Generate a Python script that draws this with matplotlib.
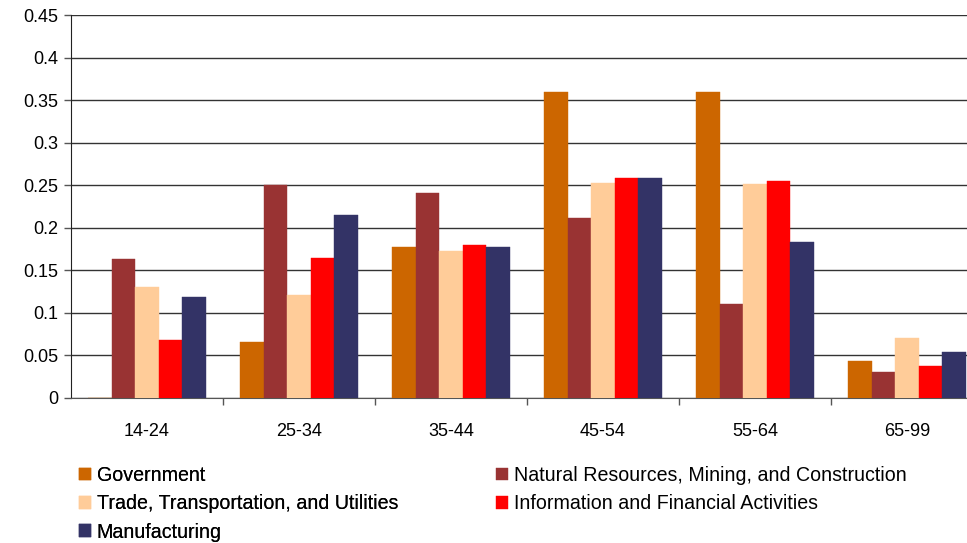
import matplotlib.pyplot as plt
import numpy as np

plt.rcParams["font.family"] = ["Liberation Sans", "DejaVu Sans"]

# age groups and share of workers per sector
age_groups = ["14-24", "25-34", "35-44", "45-54", "55-64", "65-99"]
government = [0.0, 0.066, 0.177, 0.359, 0.359, 0.044]
natural_resources = [0.163, 0.250, 0.241, 0.212, 0.111, 0.030]
trade = [0.131, 0.121, 0.173, 0.253, 0.252, 0.070]
info_finance = [0.068, 0.165, 0.180, 0.258, 0.255, 0.038]
manufacturing = [0.119, 0.215, 0.177, 0.258, 0.183, 0.054]

series = [
    ("Government", government, "#CC6600"),
    ("Natural Resources, Mining, and Construction", natural_resources, "#993333"),
    ("Trade, Transportation, and Utilities", trade, "#FFCC99"),
    ("Information and Financial Activities", info_finance, "#FF0000"),
    ("Manufacturing", manufacturing, "#333366"),
]

fig = plt.figure(figsize=(9.67, 5.43), dpi=100)
ax = fig.add_axes([71 / 967, 145 / 543, 912 / 967, 383 / 543])

x = np.arange(len(age_groups))
width = 0.155
handles = {}
for i, (name, vals, color) in enumerate(series):
    bars = ax.bar(x + (i - 2) * width, vals, width, color=color, label=name,
                  edgecolor=color, linewidth=0.3, zorder=3)
    handles[name] = bars

ax.set_xlim(-0.5, len(age_groups) - 0.5)
ax.set_ylim(0, 0.45)
ax.set_yticks(np.arange(0, 0.451, 0.05))
ax.set_yticklabels(["0", "0.05", "0.1", "0.15", "0.2", "0.25", "0.3", "0.35", "0.4", "0.45"])
ax.set_xticks(x)
ax.set_xticklabels(age_groups)
ax.set_xticks(np.arange(0.5, len(age_groups) - 0.5, 1), minor=True)
ax.tick_params(axis="x", which="major", length=0, pad=18, labelsize=13)
ax.tick_params(axis="x", which="minor", length=5, width=1, direction="out", color="#555555")
ax.tick_params(axis="y", length=5, width=1, labelsize=13, color="#555555", pad=4)
ax.yaxis.grid(True, color="#333333", linewidth=1)
ax.set_axisbelow(True)
for side in ["top", "right"]:
    ax.spines[side].set_visible(False)
ax.spines["left"].set_color("#222222")
ax.spines["bottom"].set_color("#555555")

legend_kw = dict(loc="upper left", frameon=False, fontsize=14.1,
                 handlelength=0.6, handleheight=0.6, handletextpad=0.3,
                 labelspacing=0.475, borderaxespad=0, borderpad=0)
col1 = [series[i][0] for i in (0, 2, 4)]
col2 = [series[i][0] for i in (1, 3)]
leg1 = fig.legend([handles[n] for n in col1], col1,
                  bbox_to_anchor=(79 / 967, 1 - 466 / 543), **legend_kw)
fig.add_artist(leg1)
fig.legend([handles[n] for n in col2], col2,
           bbox_to_anchor=(496 / 967, 1 - 466 / 543), **legend_kw)

fig.savefig("out.png", dpi=100)
